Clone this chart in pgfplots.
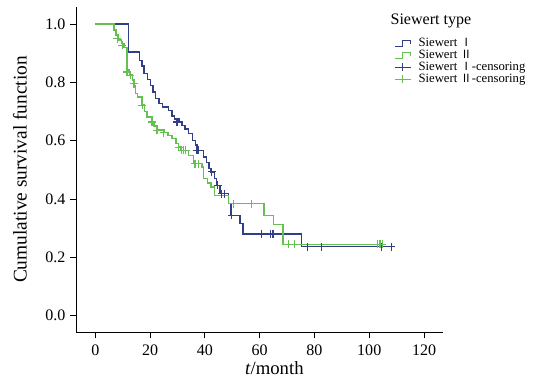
\documentclass[border=0pt]{standalone}
\usepackage{fontspec}
\setmainfont{Liberation Serif}
\newfontfamily\cjk{Noto Sans CJK SC}
\newcommand{\RI}{{\cjk\fontsize{8.5}{9}\selectfont Ⅰ}}
\newcommand{\RII}{{\cjk\fontsize{8.5}{9}\selectfont Ⅱ}}
\usepackage{pgfplots}
\pgfplotsset{compat=1.18}
\definecolor{sblue}{RGB}{50,62,135}
\definecolor{sgreen}{RGB}{100,192,80}
\pgfplotsset{
  stepleg/.style={legend image code/.code={\draw[##1] (0pt,-2pt) -- (6pt,-2pt) -- (6pt,2pt) -- (12pt,2pt) -- (12pt,0pt);}},
  censleg/.style={legend image code/.code={\draw[##1] (0pt,0pt) -- (12pt,0pt); \draw[##1] (6pt,-3pt) -- (6pt,3pt);}},
}
\begin{document}
\begin{tikzpicture}
\begin{axis}[name=ax, scale only axis, width=275pt, height=244pt,
  xmin=-7, xmax=127, ymin=-0.058, ymax=1.06,
  axis x line*=bottom, axis y line*=left,
  axis line style={-, black, line width=0.7pt},
  xtick={0,20,40,60,80,100,120}, ytick={0,0.2,0.4,0.6,0.8,1.0},
  tick align=outside, major tick length=4.5pt,
  tick style={black, line width=0.7pt},
  yticklabel={\pgfmathprintnumber[fixed,fixed zerofill,precision=1]{\tick}},
  /pgf/number format/assume math mode=true,
  ticklabel style={font=\fontsize{12}{14}\selectfont},
  xticklabel style={yshift=-1pt},
  xlabel={\textit{t}/month},
  ylabel={Cumulative survival function},
  xlabel style={font=\fontsize{14}{16}\selectfont, xshift=11pt, yshift=2pt},
  ylabel style={font=\fontsize{14.5}{16}\selectfont, yshift=7pt},
  clip=false,
  legend style={draw=none, fill=none, at={(axis description cs:0.866,0.905)}, anchor=north west,
    inner sep=0pt, row sep=0.3pt, column sep=5pt, font=\fontsize{9.5}{10}\selectfont,
    nodes={inner sep=0.4pt},
    cells={anchor=west, text height=6.3pt, text depth=1pt}},
]
% Siewert I
\addplot[const plot, sblue, line width=1.1pt, forget plot] coordinates {
(0,1.0) (12.2,0.905) (16.1,0.876) (17,0.857) (17.7,0.83) (19,0.81) (20.1,0.79)
(21,0.767) (21.9,0.745) (23.2,0.728) (24.5,0.716) (26.8,0.704) (28,0.685) (29,0.675)
(30.5,0.664) (31.6,0.653) (32.8,0.64) (34.1,0.624) (35.5,0.6) (36.5,0.585) (37.3,0.567)
(39.5,0.544) (40.5,0.525) (41.5,0.505) (42.3,0.493) (43.5,0.47) (44.2,0.447) (45.5,0.418)
(48.6,0.384) (49.5,0.344) (52.8,0.316) (54,0.28) (75.3,0.236) (108,0.236)};
% Siewert II
\addplot[const plot, sgreen, line width=1.1pt, forget plot] coordinates {
(0,1.0) (6.8,0.98) (7.5,0.962) (8.5,0.945) (9.5,0.933) (10.5,0.92) (11.6,0.842)
(12.5,0.825) (13.5,0.808) (14.1,0.79) (14.7,0.762) (15.5,0.75) (17.1,0.722) (18,0.70)
(18.9,0.681) (20.7,0.664) (21.5,0.65) (22.5,0.636) (25,0.628) (26.5,0.618) (28,0.607)
(29.5,0.59) (30.4,0.578) (31.3,0.567) (34.1,0.55) (35.9,0.521) (38.9,0.51) (39.5,0.47)
(41,0.455) (42.2,0.441) (43.5,0.412) (48.6,0.384) (61.5,0.344) (65,0.312) (68.6,0.244)
(104.8,0.244)};
% censoring I
\addplot[only marks, mark=+, mark size=3pt, sblue, line width=0.9pt, forget plot] coordinates {
(29.8,0.664) (37.1,0.567) (37.7,0.567) (42.5,0.493) (44.7,0.447) (46.2,0.418) (47.2,0.418)
(49.8,0.344) (60.7,0.28) (64.1,0.28) (64.9,0.28) (77.4,0.236) (82.5,0.236) (104.4,0.236) (108,0.236)};
% censoring II
\addplot[only marks, mark=+, mark size=3pt, sgreen, line width=0.9pt, forget plot] coordinates {
(8,0.95) (9.8,0.928) (11.6,0.836) (12.8,0.825) (14.1,0.796) (17.1,0.722) (20.7,0.664)
(22.5,0.636) (25,0.628) (30.4,0.578) (31.6,0.567) (32.3,0.567) (33,0.567) (36.4,0.521)
(37.7,0.521) (50.4,0.384) (57.1,0.384) (70.4,0.244) (72.8,0.244) (102.9,0.244) (103.9,0.244) (104.8,0.244)};
\addlegendimage{sblue, line width=0.8pt, stepleg}
\addlegendentry{Siewert \RI}
\addlegendimage{sgreen, line width=0.8pt, stepleg}
\addlegendentry{Siewert \RII}
\addlegendimage{sblue, line width=0.8pt, censleg}
\addlegendentry{Siewert \RI-censoring}
\addlegendimage{sgreen, line width=0.8pt, censleg}
\addlegendentry{Siewert \RII-censoring}
\node[anchor=west, inner sep=0pt, font=\fontsize{12}{13}\selectfont] at (axis description cs:0.856,0.955) {Siewert type};
\end{axis}
\pgfresetboundingbox
\path[use as bounding box] ([xshift=-57pt,yshift=-37pt]ax.south west) rectangle ([xshift=68pt,yshift=5pt]ax.north east);
\end{tikzpicture}
\end{document}
